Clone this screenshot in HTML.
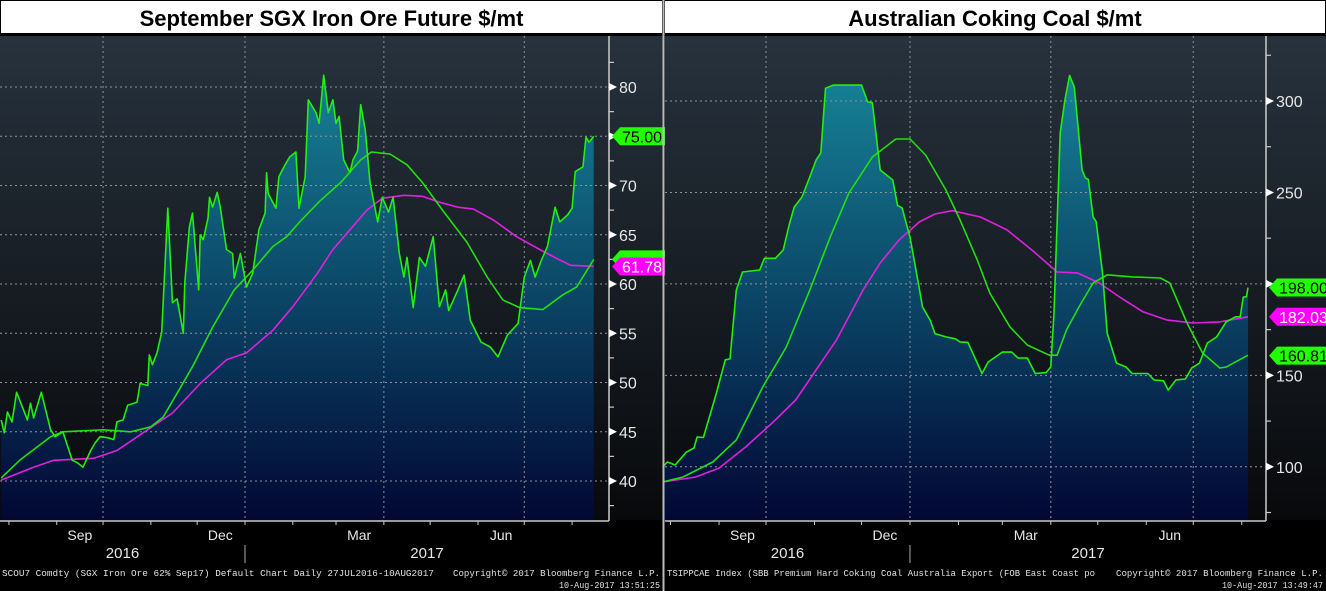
<!DOCTYPE html>
<html><head><meta charset="utf-8"><style>
html,body{margin:0;padding:0;background:#000;width:1326px;height:591px;overflow:hidden}
svg{display:block}
text{font-family:"Liberation Sans",sans-serif}
text.mono{font-family:"Liberation Mono",monospace}
</style></head><body>
<svg id="svg" width="1326" height="591" viewBox="0 0 1326 591" xmlns="http://www.w3.org/2000/svg">
<defs>
<linearGradient id="bg" x1="0" y1="0" x2="0" y2="1"><stop offset="0" stop-color="#27323d"/><stop offset="1" stop-color="#08090b"/></linearGradient>
<linearGradient id="areaL" gradientUnits="userSpaceOnUse" x1="0" y1="75" x2="0" y2="520"><stop offset="0" stop-color="#168196"/><stop offset="0.5" stop-color="#0b4566"/><stop offset="1" stop-color="#020733"/></linearGradient>
<linearGradient id="areaR" gradientUnits="userSpaceOnUse" x1="0" y1="80" x2="0" y2="520"><stop offset="0" stop-color="#168196"/><stop offset="0.5" stop-color="#0b4566"/><stop offset="1" stop-color="#020733"/></linearGradient>
</defs>
<g id="left"></g>
<g id="right"></g>
</svg>
<script>
// ---- Iron ore data (day offset from 27 Jul 2016) ----
const ironDays=[0,2,4,7,10,14,17,19,21,26,32,35,40,46,49,53,58,61,64,69,73,75,79,82,88,90,95,96,98,101,104,108,111,114,118,119,122,124,128,129,131,134,135,137,140,142,146,150,151,155,159,163,167,171,172,173,178,180,184,187,191,193,197,199,204,206,209,212,215,217,219,222,226,228,231,233,236,239,244,247,251,254,258,261,263,267,271,275,280,284,288,290,296,300,304,311,317,322,328,335,339,343,346,350,354,359,362,367,370,372,377,379,381,384];
const ironPrice=[46.2,44.9,47,46,49,47.4,46.2,47.9,46.4,49,45.2,44.5,45,42.1,41.9,41.4,43.1,43.9,44.5,44.4,44.2,46,46.2,47.7,48,49.9,49.7,52.8,51.8,53,55.1,67.7,58.1,58.5,55,60.1,65.8,67.2,59.4,65,64.5,66.7,68.8,67.8,69.3,67.8,63.5,63.1,60.6,63.1,59.7,61.1,65.5,67.2,71.3,69.2,67.7,70.9,72.1,72.9,73.4,67.7,70.9,78.7,77.4,76.3,81.2,77.4,78.7,76.3,77,72.6,71.3,72.6,73.5,78.2,75.6,70.3,66.3,68.8,67.3,68.8,63.1,60.7,62.7,57.6,62.7,61.8,64.8,57.7,59.4,57.3,59.4,60.9,56.3,54.1,53.6,52.6,54.8,56,60.7,62.4,60.7,62.4,63.8,67.8,66.3,67,67.7,71.4,71.9,74.9,74.4,75];
const ironMaDays=[0,12,32,40,66,84,97,105,114,124,137,151,163,176,185,194,207,220,233,240,252,263,273,286,302,315,325,336,351,364,373,384];
const ironMa=[40.3,42.1,44.5,45,45.2,45,45.5,46.5,48.9,51.6,55.6,59.4,61.4,63.8,64.8,66.4,68.5,70.3,72.6,73.4,73.2,72.1,70.3,67.5,64.2,60.7,58.4,57.6,57.4,58.9,59.7,62.5];
const ironMa2Days=[0,21,34,60,75,92,111,129,146,159,176,189,205,215,226,237,247,261,273,284,296,306,319,334,349,360,369,384];
const ironMa2=[40.1,41.4,42.1,42.3,43.1,44.9,46.9,49.9,52.3,53,55.3,57.7,61.1,63.5,65.5,67.5,68.7,69,68.9,68.3,67.8,67.6,66.5,64.8,63.5,62.6,61.9,61.8];
const ironTicks=[40,45,50,55,60,65,70,75,80];
const ironTags=[{v:75,label:"75.00",c:"#22ff00",tc:"#000"},{v:62.5,label:"",c:"#22ff00",tc:"#000"},{v:61.78,label:"61.78",c:"#ff00ff",tc:"#fff"}];
// ---- Coking coal data ----
const coalDays=[0,3,8,15,20,22,26,34,40,43,47,51,62,65,72,77,81,84,89,94,98,101,104,109,127,131,134,139,147,150,153,158,163,166,171,174,181,187,190,195,201,204,208,217,223,227,233,238,245,248,250,254,257,260,263,268,270,272,275,277,281,284,290,296,300,310,314,320,323,328,334,338,343,348,354,360,366,369,371,373,374];
const coalPrice=[100,102.6,101,108,110.3,116.3,116,139.3,158.5,159,196.6,206.5,207.6,214,214,218.5,233,242,247.5,258.5,267.7,271.6,307,308.7,308.7,299.5,299,262.3,256.8,243,241.5,225.6,202,187.4,180,172.8,171,170,168.3,168,156.7,151,157.3,162.7,162.7,159.5,159.5,151,151.5,154.6,184,282.5,300.5,314,307.6,262.3,258,257,236.6,234,206,173,156.7,154.6,151,151,147.5,147,142,147.5,148,154,156.7,167.7,171,179.2,182,182,192.8,193,198];
const coalMaDays=[0,13,32,47,64,79,94,107,119,134,149,158,168,181,190,201,209,222,233,247,252,258,266,275,284,300,318,324,335,345,356,360,374];
const coalMa=[91.7,94.4,102.6,114.7,143.8,165.5,196.6,225.6,249.7,269.4,279.2,279.2,270.5,251.3,235,213,195,176.4,166.6,161,161,174.8,187.4,200.5,205,203.8,203.2,200.5,178.6,162.2,154,154.5,161];
const coalMa2Days=[0,21,36,53,70,85,98,111,128,139,151,164,174,185,203,220,236,252,265,279,292,307,322,339,356,374];
const coalMa2=[91.7,94.4,99.3,110.8,124,136.5,153,169.3,196.6,211.4,224,233.9,238.2,240,236.6,229.5,218.5,206.5,206,200.5,192.8,184.7,180.3,178.6,179.2,182];
const coalTicks=[100,150,200,250,300];
const coalTags=[{v:198,label:"198.00",c:"#22ff00",tc:"#000"},{v:182.03,label:"182.03",c:"#ff00ff",tc:"#fff"},{v:160.81,label:"160.81",c:"#22ff00",tc:"#000"}];
const months=["Aug","Sep","Oct","Nov","Dec","Jan","Feb","Mar","Apr","May","Jun","Jul","Aug"];
const monthStartDays=[5,36,66,97,127,158,189,217,248,278,309,339,370];

const NS="http://www.w3.org/2000/svg";
function mk(parent,tag,attrs,txt){const e=document.createElementNS(NS,tag);for(const k in attrs)e.setAttribute(k,attrs[k]);if(txt!==undefined)e.textContent=txt;parent.appendChild(e);return e;}

function panel(g,cfg){
  const {px0,px1,axisX,top,bot,day0x,pxPerDay,vTop,yTop,pxPerUnit}=cfg;
  const X=d=>day0x+d*pxPerDay;
  const Y=v=>yTop+(vTop-v)*pxPerUnit;
  const tb=mk(g,'rect',{x:cfg.tx,y:0,width:cfg.tw,height:34,fill:'#fff',stroke:'#000','stroke-width':2});
  
  
  const tt=mk(g,'text',{x:cfg.tx+cfg.tw/2,y:26,'text-anchor':'middle','font-size':22,'font-weight':'bold',fill:'#000'},cfg.title);
  
  
  const bg=mk(g,'rect',{x:px0,y:top,width:cfg.tx+cfg.tw-px0,height:bot-top,fill:'url(#bg)'});
  
  
  let d='M'+X(cfg.days[0])+','+bot;
  cfg.price.forEach((v,i)=>{d+=' L'+X(cfg.days[i]).toFixed(1)+','+Y(v).toFixed(1);});
  d+=' L'+X(cfg.days[cfg.days.length-1]).toFixed(1)+','+bot+' Z';
  const ar=mk(g,'path',{d:d,fill:cfg.grad});
  
  
  cfg.ticks.forEach(t=>{const l=mk(g,'line',{x1:px0,x2:axisX,y1:Y(t),y2:Y(t),stroke:'#8c939c','stroke-width':1,'stroke-dasharray':'2,3'});
    
    });
  [2,5,8,11].forEach(i=>{const x=X(monthStartDays[i]);const l=mk(g,'line',{x1:x,x2:x,y1:top,y2:bot,stroke:'#8c939c','stroke-width':1,'stroke-dasharray':'2,3'});
    
    });
  const line=(days,vals,col,name)=>{let p='';vals.forEach((v,i)=>{p+=(i?' L':'M')+X(days[i]).toFixed(1)+','+Y(v).toFixed(1);});
    const e=mk(g,'path',{d:p,fill:'none',stroke:col,'stroke-width':1.6,'stroke-linejoin':'round'});
    
    };
  line(cfg.ma2Days,cfg.ma2,'#e020e0','moving-average-200');
  line(cfg.maDays,cfg.ma,'#22e010','moving-average-100');
  line(cfg.days,cfg.price,'#22ee10','price-line');
  mk(g,'rect',{x:px0,y:bot,width:cfg.tx+cfg.tw-px0,height:591-bot,fill:'#000'});
  mk(g,'line',{x1:axisX,x2:axisX,y1:top,y2:bot+1,stroke:'#ccc','stroke-width':1.5});
  mk(g,'line',{x1:px0,x2:axisX,y1:bot+1,y2:bot+1,stroke:'#ccc','stroke-width':1.5});
  const step=cfg.ticks[1]-cfg.ticks[0];
  for(let v=cfg.ticks[0]-step/2;v<=cfg.minorMax;v+=step/2){const y=Y(v);if(y<top||y>bot)continue;
    mk(g,'line',{x1:axisX,x2:axisX+5,y1:y,y2:y,stroke:'#ccc','stroke-width':1.2});}
  cfg.ticks.forEach(t=>{const y=Y(t);
    mk(g,'path',{d:`M${axisX} ${y-4}L${axisX+8} ${y}L${axisX} ${y+4}Z`,fill:'#fff'});
    const tl=mk(g,'text',{x:axisX+10,y:y+6,'font-size':16,fill:'#e6e6e6'},String(t));
    
    });
  monthStartDays.forEach(md=>{const x=X(md);if(x<px0||x>axisX)return;mk(g,'line',{x1:x,x2:x,y1:bot+1,y2:bot+5,stroke:'#ccc','stroke-width':1});});
  [1,4,7,10].forEach(i=>{const x=X(monthStartDays[i]+15);const t=mk(g,'text',{x:x,y:540,'text-anchor':'middle','font-size':14,fill:'#e6e6e6'},months[i]);
    
    });
  const jx=X(monthStartDays[5]);
  mk(g,'line',{x1:jx,x2:jx,y1:545,y2:563,stroke:'#aaa','stroke-width':1});
  const y1=mk(g,'text',{x:(px0+jx)/2,y:558,'text-anchor':'middle','font-size':15,fill:'#e6e6e6'},'2016');
  
  
  const y2=mk(g,'text',{x:(jx+axisX)/2,y:558,'text-anchor':'middle','font-size':15,fill:'#e6e6e6'},'2017');
  
  
  const f1=mk(g,'text',{class:'mono',x:px0+2,y:576,'font-size':9.5,fill:'#e0e0e0',textLength:cfg.footLen,lengthAdjust:'spacingAndGlyphs'},cfg.foot);
  
  
  const f2=mk(g,'text',{class:'mono',x:cfg.tx+cfg.tw-210,y:576,'font-size':9.5,fill:'#e0e0e0',textLength:207,lengthAdjust:'spacingAndGlyphs'},'Copyright\u00a9 2017 Bloomberg Finance L.P.');
  
  
  const f3=mk(g,'text',{class:'mono',x:cfg.tx+cfg.tw-104,y:588,'font-size':9.5,fill:'#e0e0e0',textLength:101,lengthAdjust:'spacingAndGlyphs'},cfg.stamp);
  
  
  cfg.tags.forEach(t=>{const y=Y(t.v);const x=axisX+3;const w=cfg.tx+cfg.tw-x+2;
    const p=mk(g,'path',{d:`M${x} ${y}L${x+8} ${y-9}L${x+w} ${y-9}L${x+w} ${y+9}L${x+8} ${y+9}Z`,fill:t.c});
    
    
    if(t.label){const tx=mk(g,'text',{x:x+10,y:y+6,'font-size':16,fill:t.tc},t.label);
      
      }});
}
panel(document.getElementById('left'),{tx:0,tw:663,title:'September SGX Iron Ore Future $/mt',px0:0,axisX:609,top:36,bot:520,day0x:1.2,pxPerDay:1.543,vTop:80,yTop:87,pxPerUnit:9.85,
  days:ironDays,price:ironPrice,maDays:ironMaDays,ma:ironMa,ma2Days:ironMa2Days,ma2:ironMa2,ticks:ironTicks,minorMax:84,tags:ironTags,grad:'url(#areaL)',
  foot:'SCOU7 Comdty (SGX Iron Ore 62%  Sep17) Default Chart  Daily 27JUL2016-10AUG2017',footLen:432,stamp:'10-Aug-2017 13:51:25'});
panel(document.getElementById('right'),{tx:664,tw:662,title:'Australian Coking Coal $/mt',px0:665,axisX:1266,top:36,bot:520,day0x:662.7,pxPerDay:1.565,vTop:300,yTop:101,pxPerUnit:1.829,
  days:coalDays,price:coalPrice,maDays:coalMaDays,ma:coalMa,ma2Days:coalMa2Days,ma2:coalMa2,ticks:coalTicks,minorMax:330,tags:coalTags,grad:'url(#areaR)',
  foot:'TSIPPCAE Index (SBB Premium Hard Coking Coal Australia Export (FOB East Coast po',footLen:428,stamp:'10-Aug-2017 13:49:47'});
const sep=document.createElementNS(NS,'line');
sep.setAttribute('x1',663.5);sep.setAttribute('x2',663.5);sep.setAttribute('y1',0);sep.setAttribute('y2',591);
sep.setAttribute('stroke','#bbb');sep.setAttribute('stroke-width',2);


document.getElementById('svg').appendChild(sep);
</script>
</body></html>
